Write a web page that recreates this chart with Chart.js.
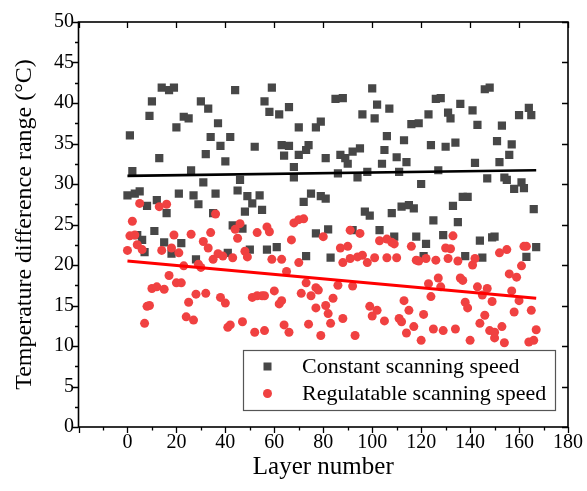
<!DOCTYPE html>
<html>
<head>
<meta charset="utf-8">
<script src="https://cdn.jsdelivr.net/npm/chart.js@4.4.1/dist/chart.umd.min.js"></script>
<style>
html,body{margin:0;padding:0;background:#fff;}
canvas{display:block;}
</style>
</head>
<body>
<canvas id="c" width="587" height="491"></canvas>
<script>
// ---- data ----
const seriesNames = ['Constant scanning speed', 'Regulatable scanning speed'];
const xTitle = 'Layer number';
const yTitle = 'Temperature difference range (\u00B0C)';

const constLayers = [0,1,2,3,4,5,6,7,8,9,
10,11,12,13,14,15,16,17,18,19,
20,21,22,23,25,26,27,28,29,30,
31,32,33,34,35,36,37,38,40,41,
42,43,44,45,46,47,48,49,50,51,
52,54,55,56,57,58,59,61,62,63,
64,66,66,68,68,70,70,72,73,73,
74,75,77,77,79,79,81,81,82,83,
85,86,87,88,89,90,92,92,94,95,
96,97,98,99,100,101,102,103,104,105,
106,107,108,109,110,111,112,113,114,115,
116,117,118,119,120,121,122,123,124,125,
126,127,128,129,130,131,132,133,134,135,
136,137,138,139,141,142,143,144,145,146,
147,148,149,150,151,152,153,154,155,156,
157,158,160,161,162,163,164,165,166,167];
const constValues = [28.6,36.0,31.6,28.8,23.7,29.1,23.1,21.6,27.3,38.4,
40.2,24.2,28.0,33.2,41.9,22.8,26.4,41.6,21.4,41.9,
37.0,28.8,22.7,38.3,38.1,31.7,28.6,20.7,27.5,40.2,
30.2,33.7,39.3,35.8,26.4,28.8,37.5,34.7,32.8,21.5,
35.8,24.9,41.6,29.2,30.5,24.5,26.6,28.5,21.9,27.6,
34.6,28.6,26.8,40.2,21.9,38.9,41.9,22.2,38.6,34.8,
33.5,39.5,34.7,32.1,30.8,37.0,33.6,27.8,34.2,21.1,
34.8,28.8,23.9,37.0,37.7,28.5,33.2,28.2,24.4,20.9,
40.5,31.3,33.6,40.6,33.2,32.5,34.0,24.3,30.8,34.4,
38.6,26.6,31.5,26.1,41.8,38.1,39.8,24.3,32.5,34.2,
35.9,39.3,26.4,23.5,33.3,31.5,27.2,35.4,32.7,27.4,
37.4,27.0,23.5,37.5,30.0,21.1,22.6,38.6,34.8,25.5,
40.5,31.7,40.6,23.7,34.6,38.8,38.1,27.3,35.1,25.3,
39.9,28.4,21.1,28.4,39.1,32.6,37.3,23.0,20.9,41.7,
30.7,41.9,23.4,23.5,35.3,32.7,37.2,30.8,30.5,33.6,
34.9,29.4,38.5,30.2,29.5,21.0,39.4,38.5,26.9,22.2];

const regLayers = [0,1,2,3,4,5,6,7,8,9,
10,12,13,14,15,16,17,18,19,20,
21,22,23,24,25,26,27,28,29,30,
31,32,33,34,35,36,37,38,39,40,
41,42,43,44,45,46,47,48,49,51,
52,53,53,55,56,56,57,58,59,60,
62,63,63,64,65,66,67,68,70,70,
71,72,73,74,75,77,77,78,79,80,
81,82,83,84,86,87,88,88,90,91,
91,92,93,94,95,96,98,99,100,101,
102,103,105,106,106,108,109,110,111,112,
113,114,115,116,117,118,119,120,121,122,
123,124,125,126,127,128,129,130,131,132,
133,134,135,136,137,138,139,140,141,142,
143,144,145,146,147,148,149,150,150,152,
153,154,155,156,157,158,159,160,161,162,
163,164,165,166,167];
const regValues = [21.8,23.6,25.4,23.7,22.5,27.6,21.9,12.8,14.9,15.0,
17.1,17.3,27.2,21.8,17.0,27.5,18.7,22.1,23.7,17.8,
21.5,17.8,19.9,13.6,15.4,23.8,13.2,16.4,20.1,19.7,
22.9,16.5,22.1,24.0,20.7,26.3,21.4,16.0,21.1,15.3,
12.3,12.6,20.9,24.4,23.3,25.1,13.0,21.7,21.0,16.0,
11.7,16.2,24.0,16.2,16.2,11.9,24.7,24.1,20.7,16.8,
15.2,15.6,20.7,12.6,19.2,11.7,23.1,25.2,20.3,25.6,
16.5,25.7,17.8,12.7,16.2,17.2,14.7,16.9,11.3,23.5,
15.0,14.0,12.8,15.9,17.5,22.1,13.4,20.3,22.3,24.3,
20.8,17.4,11.3,21.0,23.9,21.2,20.3,14.9,13.7,20.9,
14.4,23.0,13.1,20.9,23.2,22.8,22.6,20.9,13.4,13.0,
15.6,11.6,14.4,22.3,12.4,20.6,20.5,10.7,13.9,20.8,
17.7,16.1,12.1,20.6,18.4,17.3,11.9,22.1,20.8,22.0,
23.6,12.1,20.5,18.4,18.1,15.4,14.7,10.7,20.0,20.8,
17.3,12.8,16.3,13.8,17.1,11.9,15.5,11.0,11.7,21.5,
12.4,10.4,21.9,18.9,16.8,14.2,18.5,15.6,19.9,22.3,
22.3,10.5,14.4,10.7,12.0];

// linear fit lines (end points)
const trendLayers = [0, 167];
const constTrend = [31.0, 31.7];
const regTrend = [20.5, 15.9];

// axes
const xMin = -20, xMax = 180, xStep = 20, xMinorStep = 10;
const yMin = 0, yMax = 50, yStep = 5, yMinorStep = 2.5;

// ---- styles ----
const FONT = '"Liberation Serif", "Times New Roman", serif';
const constColor = '#474747';
const regColor = '#f04141';

const toPts = (xs, ys) => xs.map((x, i) => ({x: x, y: ys[i]}));

const framePlugin = {
  id: 'frameAndLegend',
  afterDatasetsDraw(chart) {
    const {ctx, chartArea: a, scales: {x, y}} = chart;
    ctx.save();
    ctx.strokeStyle = '#000';
    ctx.lineWidth = 1.3;
    ctx.beginPath();
    for (let v = xMin; v <= xMax + 1e-9; v += xMinorStep) {
      const px = Math.round(x.getPixelForValue(v)) + 0.5;
      const major = Math.abs(v % xStep) < 1e-9;
      ctx.moveTo(px, a.bottom); ctx.lineTo(px, a.bottom + (major ? 6 : 3.5));
      if (major) { ctx.moveTo(px, a.top); ctx.lineTo(px, a.top + 6); }
    }
    for (let v = yMin; v <= yMax + 1e-9; v += yMinorStep) {
      const py = Math.round(y.getPixelForValue(v)) + 0.5;
      const major = Math.abs(v % yStep) < 1e-9;
      ctx.moveTo(a.left, py); ctx.lineTo(a.left - (major ? 6 : 3.5), py);
      if (major) { ctx.moveTo(a.right, py); ctx.lineTo(a.right - 6, py); }
    }
    ctx.stroke();
    ctx.lineWidth = 1.6;
    ctx.strokeRect(a.left, a.top, a.right - a.left, a.bottom - a.top);

    // legend inside the plot, bottom right
    const bw = 312, bh = 60;
    const bx = a.right - 13 - bw, by = a.bottom - 17 - bh;
    ctx.fillStyle = '#fff';
    ctx.fillRect(bx, by, bw, bh);
    ctx.strokeStyle = '#555';
    ctx.lineWidth = 1.2;
    ctx.strokeRect(bx + 0.5, by + 0.5, bw, bh);
    const mx = bx + 24.5, tx = bx + 59;
    const r1 = by + 16.5, r2 = by + 43.5;
    ctx.fillStyle = constColor;
    ctx.fillRect(mx - 4, r1 - 4, 8, 8);
    ctx.fillStyle = regColor;
    ctx.beginPath(); ctx.arc(mx, r2, 4.5, 0, Math.PI * 2); ctx.fill();
    ctx.fillStyle = '#000';
    ctx.font = '22px ' + FONT;
    ctx.textAlign = 'left';
    ctx.textBaseline = 'middle';
    ctx.fillText(seriesNames[0], tx, r1 + 1);
    ctx.fillText(seriesNames[1], tx, r2 + 1);
    ctx.restore();
  }
};

new Chart(document.getElementById('c'), {
  type: 'scatter',
  data: {
    datasets: [
      {label: 'fit2', data: toPts(trendLayers, regTrend), showLine: true, borderColor: '#ff0000', borderWidth: 3, pointRadius: 0, fill: false},
      {label: 'fit1', data: toPts(trendLayers, constTrend), showLine: true, borderColor: '#000', borderWidth: 2.6, pointRadius: 0, fill: false},
      {label: seriesNames[1], data: toPts(regLayers, regValues), pointStyle: 'circle', pointRadius: 4.5, pointBackgroundColor: regColor, pointBorderWidth: 0, showLine: false},
      {label: seriesNames[0], data: toPts(constLayers, constValues), pointStyle: 'rect', pointRadius: 5.8, pointBackgroundColor: constColor, pointBorderWidth: 0, showLine: false}
    ]
  },
  options: {
    responsive: false,
    animation: false,
    events: [],
    layout: {padding: {left: 0, right: 18, top: 22, bottom: 0}},
    plugins: {legend: {display: false}, tooltip: {enabled: false}},
    scales: {
      x: {
        type: 'linear', min: xMin, max: xMax,
        grid: {display: false, drawTicks: false},
        border: {display: false},
        ticks: {
          stepSize: xStep, autoSkip: false, maxRotation: 0, padding: 4, color: '#000',
          font: {family: FONT, size: 20},
          callback: v => (v < 0 ? '' : String(v))
        },
        title: {display: true, text: xTitle, color: '#000', font: {family: FONT, size: 25, lineHeight: 1}, padding: {top: 0, bottom: 11.5}},
        afterFit: s => { s.height = 64; }
      },
      y: {
        type: 'linear', min: yMin, max: yMax,
        grid: {display: false, drawTicks: false},
        border: {display: false},
        ticks: {stepSize: yStep, padding: 4.5, color: '#000', font: {family: FONT, size: 20}},
        title: {display: true, text: yTitle, color: '#000', font: {family: FONT, size: 24, lineHeight: 1}, padding: {top: 13, bottom: 0}},
        afterFit: s => { s.width = 78.5; }
      }
    }
  },
  plugins: [framePlugin]
});
</script>
</body>
</html>
